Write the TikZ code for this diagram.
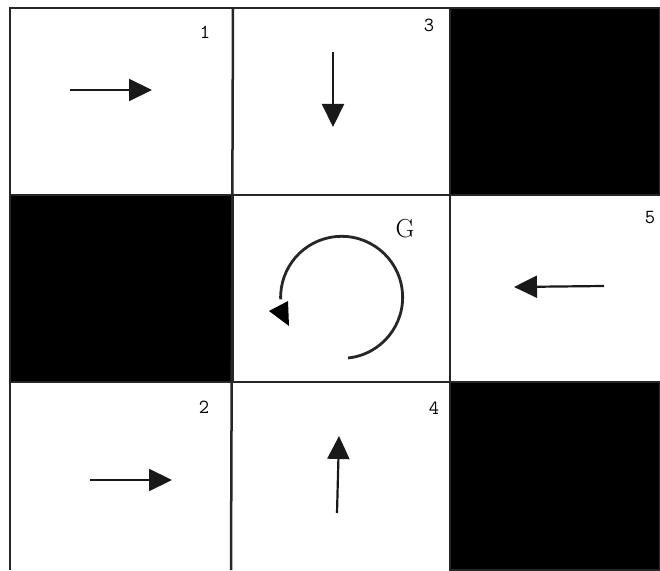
\documentclass[tikz,border=0pt]{standalone}
\usepackage{tikz}
\usetikzlibrary{arrows.meta}
\definecolor{gridgray}{RGB}{38, 38, 38}

\begin{document}
\begin{tikzpicture}[
    x=1pt, y=1pt,
    wall/.style={fill=black, draw=gridgray, line width=2.5pt},
    gridline/.style={draw=gridgray, line width=2.5pt},
    move/.style={-{Triangle[length=23pt, width=22pt]}, line width=2.2pt, draw=black!90},
    loopline/.style={line width=2.8pt, draw=black!85},
    num/.style={font=\ttfamily\fontsize{20}{20}\selectfont, inner sep=0pt},
    goal/.style={font=\rmfamily\fontsize{26}{26}\selectfont, inner sep=0pt}
]
\useasboundingbox (0,0) rectangle (660,570);
\fill[white] (0,0) rectangle (660,570);
% blocked cells
\filldraw[wall] (450,562) rectangle (660,375);
\filldraw[wall] (10,375) rectangle (233,188);
\filldraw[wall] (450,188) rectangle (660,0);
% grid
\draw[gridline] (10,0) -- (10,562) -- (660,562);
\draw[gridline] (10,375) -- (660,375);
\draw[gridline] (10,188) -- (660,188);
\draw[gridline] (233,562) -- (231,0);
\draw[gridline] (450,562) -- (450,0);
% cell numbers
\node[num] (n1) at (205,538) {1};
\node[num] (n3) at (429,545) {3};
\node[num] (n5) at (650,352) {5};
\node[num] (n2) at (204,163) {2};
\node[num] (n4) at (434,162) {4};
\node[goal] (g) at (405,341) {G};
% moves
\draw[move] (70,480) -- (152,480);
\draw[move] (333,518) -- (333,443);
\draw[move] (604,284) -- (514,283);
\draw[move] (90,90) -- (172,90);
\draw[move] (337,57) -- (339,134);
% stay at goal
\draw[loopline] (348,212) arc[start angle=-84, end angle=182, radius=61];
\fill (269,259) -- (288,269) -- (289,244) -- cycle;
\end{tikzpicture}
\end{document}
